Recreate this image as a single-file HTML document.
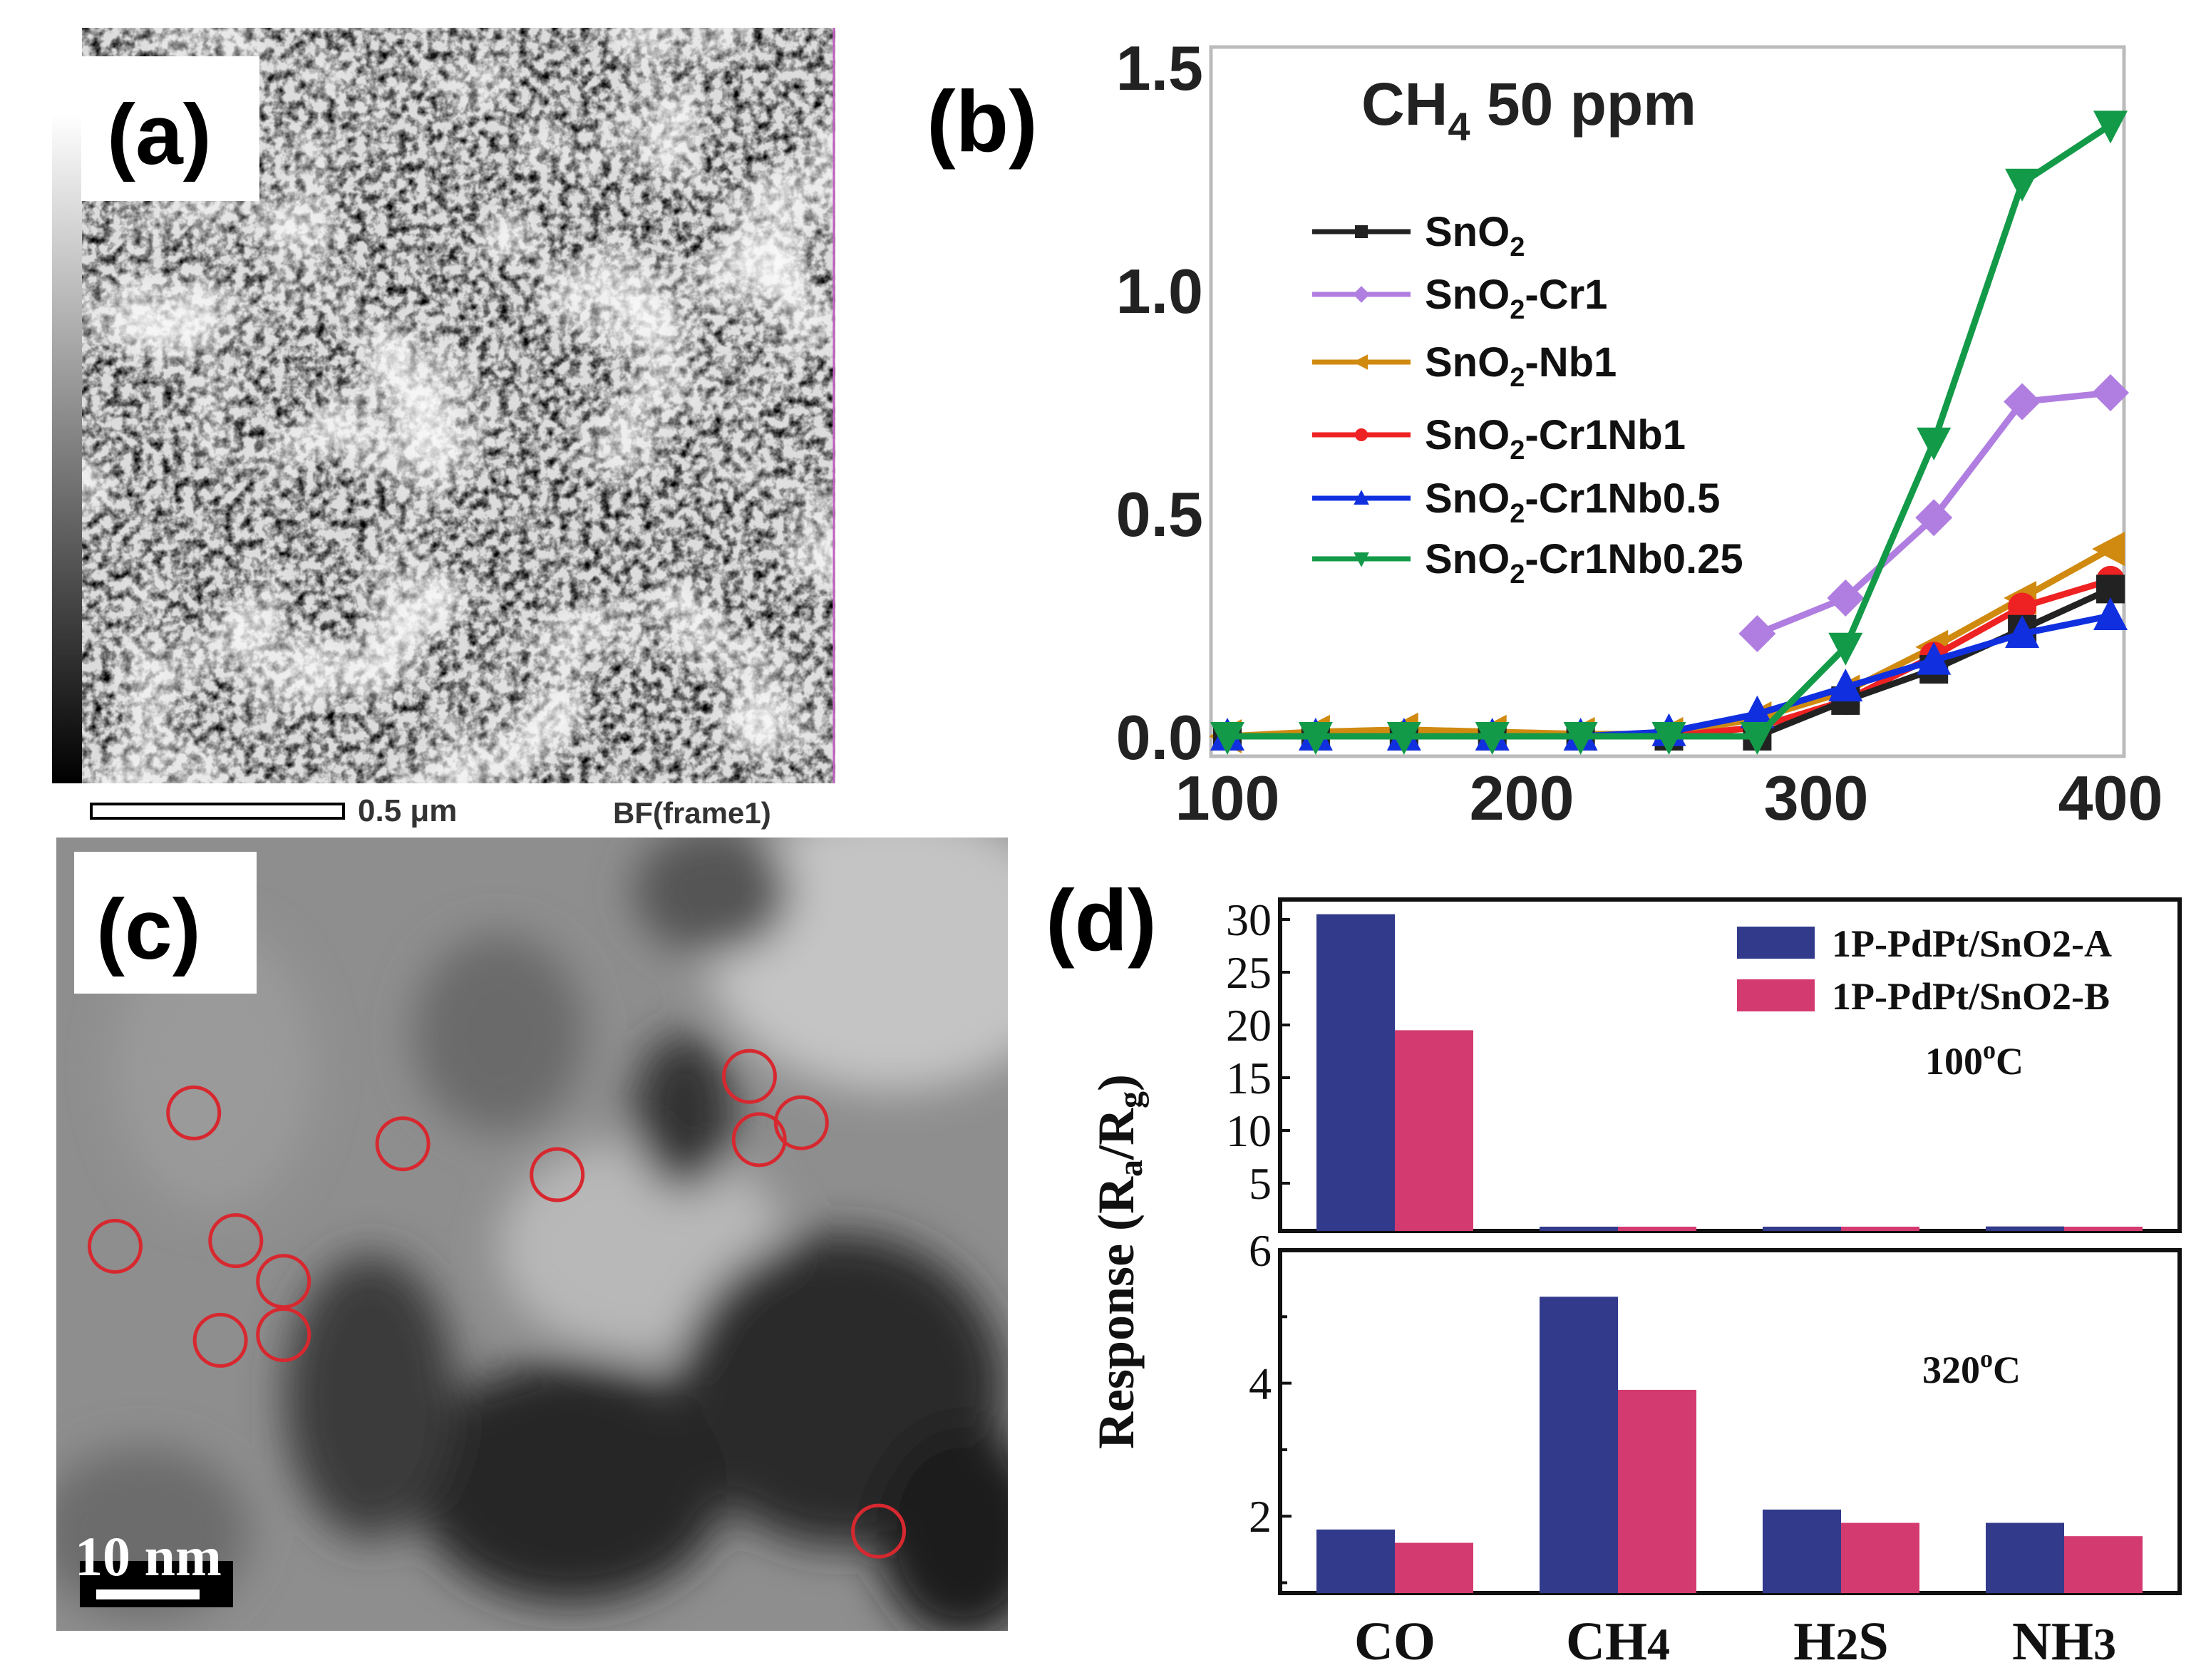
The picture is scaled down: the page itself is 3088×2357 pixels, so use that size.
<!DOCTYPE html>
<html><head><meta charset="utf-8"><style>
html,body{margin:0;padding:0;background:#fff}
svg{display:block}
</style></head><body>
<svg id="fig" width="3088" height="2357" viewBox="0 0 3088 2357" xmlns="http://www.w3.org/2000/svg" font-family="Liberation Sans, sans-serif">
<defs>
<filter id="tex" x="0" y="0" width="100%" height="100%">
<feTurbulence type="fractalNoise" baseFrequency="0.07" numOctaves="3" seed="4"/>
<feColorMatrix type="matrix" values="0 0 0 0 0  0 0 0 0 0  0 0 0 0 0  -2.2 0 0 0 1.35"/>
</filter>
<filter id="blob" x="0" y="0" width="100%" height="100%">
<feTurbulence type="fractalNoise" baseFrequency="0.006" numOctaves="2" seed="9"/>
<feColorMatrix type="matrix" values="0 0 0 0 1  0 0 0 0 1  0 0 0 0 1  2.5 0 0 0 -1.2"/>
</filter>
<filter id="bl"><feGaussianBlur stdDeviation="30"/></filter>
<linearGradient id="cbar" x1="0" y1="1" x2="0" y2="0"><stop offset="0" stop-color="#000"/><stop offset="1" stop-color="#fff"/></linearGradient>
<clipPath id="clipc"><rect x="79" y="1175" width="1335" height="1113"/></clipPath>
</defs>

<!-- Panel a -->
<g>
<rect x="115" y="39" width="1057" height="1060" fill="#dcdcdc"/>
<rect x="115" y="39" width="1057" height="1060" fill="#1a1a1a" filter="url(#tex)"/>
<rect x="115" y="39" width="1057" height="1060" fill="#fff" filter="url(#blob)"/>
<rect x="73" y="160" width="42" height="939" fill="url(#cbar)"/>
<line x1="1170" y1="39" x2="1170" y2="1099" stroke="#c060c0" stroke-width="3"/>
<rect x="114" y="79" width="250" height="203" fill="#fff"/>
<text x="150" y="230" font-size="120" font-weight="bold">(a)</text>
<rect x="128" y="1128" width="354" height="20" fill="none" stroke="#000" stroke-width="4"/>
<text x="502" y="1152" font-size="44" font-weight="bold" fill="#333">0.5 μm</text>
<text x="860" y="1155" font-size="42" font-weight="bold" fill="#333">BF(frame1)</text>
</g>

<!-- Panel c -->
<g clip-path="url(#clipc)">
<rect x="79" y="1175" width="1335" height="1113" fill="#8e8e8e"/>
<g filter="url(#bl)">
<ellipse cx="1250" cy="1330" rx="260" ry="200" fill="#c4c4c4"/>
<ellipse cx="900" cy="1750" rx="200" ry="150" fill="#b8b8b8"/>
<ellipse cx="700" cy="1450" rx="120" ry="140" fill="#6a6a6a"/>
<ellipse cx="300" cy="1500" rx="140" ry="200" fill="#9a9a9a"/>
<ellipse cx="1180" cy="1950" rx="230" ry="220" fill="#2a2a2a"/>
<ellipse cx="800" cy="2080" rx="220" ry="170" fill="#252525"/>
<ellipse cx="520" cy="1960" rx="120" ry="200" fill="#3a3a3a"/>
<ellipse cx="1350" cy="2150" rx="120" ry="150" fill="#1e1e1e"/>
<ellipse cx="960" cy="1560" rx="70" ry="110" fill="#303030"/>
<ellipse cx="200" cy="2150" rx="150" ry="120" fill="#6c6c6c"/>
<ellipse cx="1000" cy="1250" rx="110" ry="90" fill="#555"/>
</g>
</g>
<rect x="104" y="1195" width="256" height="199" fill="#fff"/>
<text x="135" y="1345" font-size="120" font-weight="bold">(c)</text>
<g id="circles"></g>
<rect x="112" y="2190" width="215" height="65" fill="#000"/>
<rect x="135" y="2230" width="145" height="14" fill="#fff"/>
<text x="105" y="2210" font-size="78" font-weight="bold" font-family="Liberation Serif, serif" fill="#fff">10 nm</text>

<!-- Panel b -->
<g id="pb"></g>
<!-- Panel d -->
<g id="pd"></g>
</svg>
<script>
// ---------- Panel b data ----------
const tempsB = [100,130,160,190,220,250,280,310,340,370,400];
const sSnO2 = [0,0,0,0,0,0,0,0.08,0.15,0.24,0.33];
const sCr1 = [null,null,null,null,null,null,0.23,0.31,0.49,0.75,0.77];
const sNb1 = [0,0.01,0.015,0.01,0.005,0.005,0.04,0.10,0.20,0.31,0.42];
const sCr1Nb1 = [0,0,0,0,0,0,0.02,0.08,0.18,0.29,0.35];
const sCr1Nb05 = [0,0,0,0,0,0.01,0.05,0.11,0.17,0.23,0.27];
const sCr1Nb025 = [0,0,0,0,0,0,0,0.20,0.66,1.24,1.37];
const bYTicks = ["0.0","0.5","1.0","1.5"];
const bXTicks = ["100","200","300","400"];
const bLegend = ["SnO2","SnO2-Cr1","SnO2-Nb1","SnO2-Cr1Nb1","SnO2-Cr1Nb0.5","SnO2-Cr1Nb0.25"];

// ---------- Panel d data ----------
const gases = ["CO","CH4","H2S","NH3"];
const lowA = [30.5,0.5,0.8,0.9];
const lowB = [19.5,0.5,0.7,0.8];
const highA = [1.8,5.3,2.1,1.9];
const highB = [1.6,3.9,1.9,1.7];
const dTopTicks = [5,10,15,20,25,30];
const dBotTicks = [2,4,6];
const dLegend = ["1P-PdPt/SnO2-A","1P-PdPt/SnO2-B"];

// ---------- Panel c markers ----------
const circlePts = [[138,793],[82,888],[168,884],[202,913],[157,955],[202,951],[287,815],[397,837],[534,767],[541,812],[571,800],[626,1091]];

const NS="http://www.w3.org/2000/svg";
function mk(tag,attrs,parent){const e=document.createElementNS(NS,tag);for(const k in attrs)e.setAttribute(k,attrs[k]);parent.appendChild(e);return e;}

const cg=document.getElementById('circles');
circlePts.forEach(p=>{
  const c=mk('circle',{cx:p[0]*1.969,cy:p[1]*1.969,r:36,fill:'none',stroke:'#d8282f','stroke-width':5},cg);
  
  
});

// Panel b
const pb=document.getElementById('pb');
const bx=t=>1722+(t-100)*4.13;
const by=v=>1033-v*626;
const fr=mk('rect',{x:1699,y:66,width:1281,height:995,fill:'none',stroke:'#bbb','stroke-width':5},pb);


bYTicks.forEach(s=>{const t=mk('text',{x:1688,y:by(parseFloat(s))+32,'font-size':88,'font-weight':'bold','text-anchor':'end',fill:'#222'},pb);t.textContent=s;
  
  });
bXTicks.forEach(s=>{const t=mk('text',{x:bx(+s),y:1150,'font-size':88,'font-weight':'bold','text-anchor':'middle',fill:'#222'},pb);t.textContent=s;
  
  });
const ttl=mk('text',{x:1910,y:175,'font-size':84,'font-weight':'bold',fill:'#222'},pb);
ttl.innerHTML='CH<tspan font-size="56" dy="22">4</tspan><tspan dy="-22"> 50 ppm</tspan>';


const lb=mk('text',{x:1300,y:212,'font-size':122,'font-weight':'bold'},pb);lb.textContent='(b)';


const series=[sSnO2,sCr1,sNb1,sCr1Nb1,sCr1Nb05,sCr1Nb025];
const colors=['#222','#b07ee0','#d08a10','#ee2222','#1030e0','#139a48'];
const markers=['square','diamond','ltri','circle','tri','dtri'];
function marker(type,x,y,s,col,g){
  let e;
  if(type==='square')e=mk('rect',{x:x-s,y:y-s,width:2*s,height:2*s,fill:col},g);
  else if(type==='circle')e=mk('circle',{cx:x,cy:y,r:s,fill:col},g);
  else{let p;
    if(type==='diamond')p=[[x,y-s*1.3],[x+s*1.3,y],[x,y+s*1.3],[x-s*1.3,y]];
    if(type==='tri')p=[[x,y-s*1.3],[x+s*1.2,y+s],[x-s*1.2,y+s]];
    if(type==='dtri')p=[[x,y+s*1.3],[x+s*1.2,y-s],[x-s*1.2,y-s]];
    if(type==='ltri')p=[[x-s*1.3,y],[x+s,y-s*1.2],[x+s,y+s*1.2]];
    e=mk('polygon',{points:p.map(q=>q.join(',')).join(' '),fill:col},g);}
  return e;
}
const drawOrder=[2,3,0,4,1,5];
drawOrder.forEach(i=>{
  const g=mk('g',{},pb);
  
  
  const pts=[];series[i].forEach((v,j)=>{if(v!==null)pts.push([bx(tempsB[j]),by(v)]);});
  const pl=mk('polyline',{points:pts.map(p=>p.join(',')).join(' '),fill:'none',stroke:colors[i],'stroke-width':9,'stroke-linejoin':'round'},g);
  
  
  pts.forEach(p=>{const m=marker(markers[i],p[0],p[1],20,colors[i],g);
    
    });
});
const legY=[325,413,508,610,699,784];
bLegend.forEach((name,i)=>{
  const g=mk('g',{},pb);
  
  
  mk('line',{x1:1841,y1:legY[i],x2:1979,y2:legY[i],stroke:colors[i],'stroke-width':7},g);
  marker(markers[i],1910,legY[i],9,colors[i],g);
  const t=mk('text',{x:1999,y:legY[i]+20,'font-size':58,'font-weight':'bold',fill:'#111'},g);
  const rest=name.slice(4);
  t.innerHTML='SnO<tspan font-size="38" dy="14">2</tspan><tspan dy="-14">'+rest+'</tspan>';
});

// Panel d
const pd=document.getElementById('pd');
const serif='Liberation Serif, serif';
const L=1796,R=3058,T1=1262,B1=1727,T2=1754,B2=2235;
const yTop=v=>1734-v*14.8;
const yBot=v=>1754+(6-v)*93.3;
const gx=i=>1847+i*313;
const bw=110;
const f1=mk('rect',{x:L,y:T1,width:R-L,height:B1-T1,fill:'none',stroke:'#111','stroke-width':6},pd);


const f2=mk('rect',{x:L,y:T2,width:R-L,height:B2-T2,fill:'none',stroke:'#111','stroke-width':6},pd);


function bar(x,y0,y1,col,name){const r=mk('rect',{x:x,y:y1,width:bw,height:Math.max(0,y0-y1),fill:col},pd);
  
  }
gases.forEach((g,i)=>{
  bar(gx(i),B1,Math.min(B1-6,yTop(lowA[i])),'#323a8c','bar-100c-'+g.toLowerCase()+'-a');
  bar(gx(i)+bw,B1,Math.min(B1-6,yTop(lowB[i])),'#d33a6f','bar-100c-'+g.toLowerCase()+'-b');
  bar(gx(i),B2,yBot(highA[i]),'#323a8c','bar-320c-'+g.toLowerCase()+'-a');
  bar(gx(i)+bw,B2,yBot(highB[i]),'#d33a6f','bar-320c-'+g.toLowerCase()+'-b');
  const t=mk('text',{x:gx(i)+bw,y:2328,'font-size':76,'font-weight':'bold','font-family':serif,'text-anchor':'middle',fill:'#111'},pd);
  t.innerHTML=g.replace(/(\d)/,'<tspan font-size="64">$1</tspan>');
  
  
});
dTopTicks.forEach(v=>{
  mk('line',{x1:L,y1:yTop(v),x2:L+14,y2:yTop(v),stroke:'#111','stroke-width':4},pd);
  const t=mk('text',{x:L-12,y:yTop(v)+22,'font-size':64,'font-family':serif,'text-anchor':'end',fill:'#111'},pd);t.textContent=v;
  
  
});
[1,2,3,4,5,6].forEach(v=>{mk('line',{x1:L,y1:yBot(v),x2:L+(v%2?10:16),y2:yBot(v),stroke:'#111','stroke-width':4},pd);});
dBotTicks.forEach(v=>{
  const t=mk('text',{x:L-12,y:yBot(v)+22,'font-size':64,'font-family':serif,'text-anchor':'end',fill:'#111'},pd);t.textContent=v;
  
  
});
const yt=mk('text',{x:0,y:0,'font-size':72,'font-weight':'bold','font-family':serif,'text-anchor':'middle',fill:'#111',transform:'translate(1590,1770) rotate(-90)'},pd);
yt.innerHTML='Response (R<tspan font-size="48" dy="12">a</tspan><tspan dy="-12">/R</tspan><tspan font-size="48" dy="12">g</tspan><tspan dy="-12">)</tspan>';


const lcols=['#323a8c','#d33a6f'];
dLegend.forEach((n,i)=>{
  const g=mk('g',{},pd);
  
  
  mk('rect',{x:2437,y:1300+i*74,width:109,height:45,fill:lcols[i]},g);
  const t=mk('text',{x:2570,y:1342+i*74,'font-size':54,'font-weight':'bold','font-family':serif,fill:'#111'},g);t.textContent=n;
});
const t100=mk('text',{x:2770,y:1507,'font-size':54,'font-weight':'bold','font-family':serif,'text-anchor':'middle',fill:'#111'},pd);
t100.innerHTML='100<tspan font-size="36" dy="-22">o</tspan><tspan dy="22">C</tspan>';


const t320=mk('text',{x:2766,y:1940,'font-size':54,'font-weight':'bold','font-family':serif,'text-anchor':'middle',fill:'#111'},pd);
t320.innerHTML='320<tspan font-size="36" dy="-22">o</tspan><tspan dy="22">C</tspan>';


const ld=mk('text',{x:1467,y:1333,'font-size':122,'font-weight':'bold'},pd);ld.textContent='(d)';


</script>
</body></html>
